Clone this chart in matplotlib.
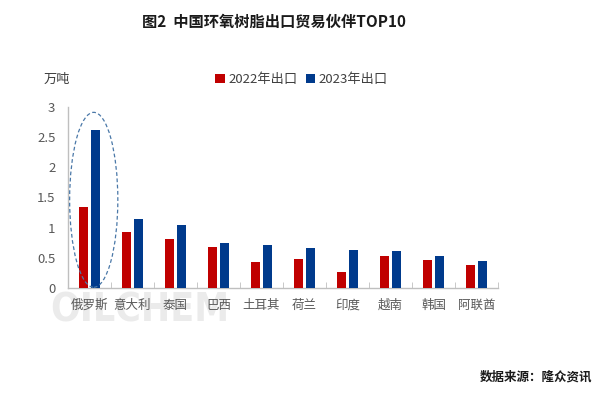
import numpy as np
import matplotlib.pyplot as plt
from matplotlib.patches import Ellipse

plt.rcParams['font.family'] = ['Noto Sans CJK SC', 'DejaVu Sans']

countries = ['俄罗斯', '意大利', '泰国', '巴西', '土耳其', '荷兰', '印度', '越南', '韩国', '阿联酋']
export_2022 = [1.34, 0.93, 0.81, 0.68, 0.43, 0.48, 0.26, 0.53, 0.46, 0.38]
export_2023 = [2.62, 1.14, 1.04, 0.74, 0.71, 0.66, 0.63, 0.61, 0.53, 0.44]
yticks = [0, 0.5, 1, 1.5, 2, 2.5, 3]
yticklabels = ['0', '0.5', '1', '1.5', '2', '2.5', '3']


def main():
    fig = plt.figure(figsize=(6.01, 3.96), dpi=100)

    # watermark behind everything
    fig.text(0.083, 0.217, 'OILCHEM', fontsize=28, color='#EBEBEB',
             family='DejaVu Sans', fontstretch='condensed', fontweight='bold',
             zorder=-5, va='center', ha='left')

    ax = fig.add_axes([0.113, 0.273, 0.716, 0.457])
    ax.patch.set_visible(False)

    x = np.arange(len(countries))
    w = 0.22
    ax.bar(x - 0.14, export_2022, w, color='#C00000', label='2022年出口', zorder=3)
    ax.bar(x + 0.14, export_2023, w, color='#003A8C', label='2023年出口', zorder=3)

    ax.set_xlim(-0.5, len(countries) - 0.5)
    ax.set_ylim(0, 3)
    ax.set_yticks(yticks)
    ax.set_yticklabels(yticklabels)
    ax.set_xticks(x)
    ax.set_xticklabels(countries)
    # boundary ticks between categories
    ax.set_xticks(np.arange(len(countries) + 1) - 0.5, minor=True)
    ax.tick_params(axis='x', which='major', length=0, pad=8,
                   labelsize=9, labelcolor='#595959')
    ax.tick_params(axis='x', which='minor', length=4, direction='in',
                   color='#BFBFBF')
    ax.tick_params(axis='y', length=0, pad=9, labelsize=9.5,
                   labelcolor='#595959')

    for s in ['top', 'right']:
        ax.spines[s].set_visible(False)
    for s in ['left', 'bottom']:
        ax.spines[s].set_color('#BFBFBF')
        ax.spines[s].set_linewidth(1.0)

    # dashed ellipse around Russia
    ell = Ellipse((0.1, 1.46), 1.12, 2.9, fill=False, ls=(0, (3, 2)),
                  lw=0.9, edgecolor='#4A78A8', zorder=4, clip_on=False)
    ax.add_patch(ell)

    fig.text(0.455, 0.944, '图2  中国环氧树脂出口贸易伙伴TOP10', fontsize=11,
             fontweight='bold', ha='center', va='center', color='#1a1a1a')
    fig.text(0.072, 0.80, '万吨', fontsize=9.5, color='#404040',
             ha='left', va='center')

    leg = ax.legend(loc='center', bbox_to_anchor=(0.502, 0.798), ncol=2,
                    bbox_transform=fig.transFigure, frameon=False,
                    fontsize=9.5, handlelength=0.7, handleheight=0.7,
                    handletextpad=0.3, columnspacing=0.6)
    for t in leg.get_texts():
        t.set_color('#404040')

    fig.text(0.985, 0.048, '数据来源：隆众资讯', fontsize=9,
             fontweight='bold', ha='right', va='center', color='#1a1a1a')

    fig.savefig('out.png', dpi=100)


if __name__ == '__main__':
    main()
